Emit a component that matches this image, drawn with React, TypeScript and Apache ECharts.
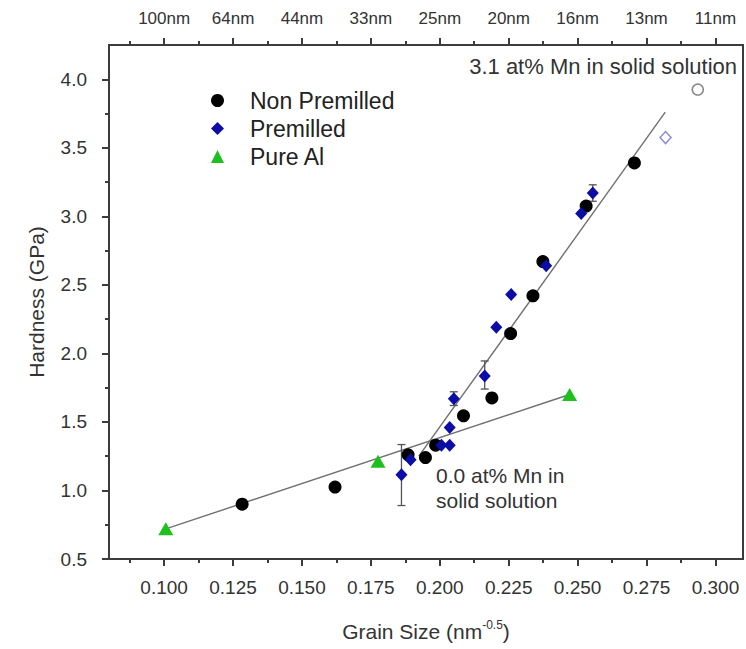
import React, { useEffect, useRef } from "react";
import * as echarts from "echarts";

const FONT = "'Liberation Sans', Arial, sans-serif";

// Axis ticks / labels
const xTicks = [0.1, 0.125, 0.15, 0.175, 0.2, 0.225, 0.25, 0.275, 0.3];
const xMinorTicks = [0.0875, 0.1125, 0.1375, 0.1625, 0.1875, 0.2125, 0.2375, 0.2625, 0.2875];
const topLabels = ["100nm", "64nm", "44nm", "33nm", "25nm", "20nm", "16nm", "13nm", "11nm"];
const yTicks = [0.5, 1.0, 1.5, 2.0, 2.5, 3.0, 3.5, 4.0];
const yMinorTicks = [0.75, 1.25, 1.75, 2.25, 2.75, 3.25, 3.75];

// Data [grain size nm^-0.5, hardness GPa]
const nonPremilled = [
  [0.1283, 0.9], [0.162, 1.025], [0.1885, 1.26], [0.1948, 1.24], [0.1985, 1.33],
  [0.2086, 1.545], [0.2189, 1.675], [0.2257, 2.145], [0.2338, 2.42], [0.2374, 2.67],
  [0.2531, 3.075], [0.2706, 3.39],
];
const premilled = [
  [0.1861, 1.115], [0.1894, 1.225], [0.2006, 1.33], [0.2036, 1.33], [0.2036, 1.46],
  [0.2051, 1.67], [0.2163, 1.835], [0.2205, 2.19], [0.2259, 2.43], [0.2386, 2.64],
  [0.2513, 3.02], [0.2555, 3.17],
];
const pureAl = [[0.1006, 0.72], [0.1776, 1.213], [0.2471, 1.7]];
const nonPremilledOpen = [[0.2936, 3.925]];
const premilledOpen = [[0.2819, 3.575]];
const fitPureAl = [[0.1006, 0.72], [0.2471, 1.7]];
const fitMn = [[0.1924, 1.25], [0.2818, 3.76]];
// [x, low, high]
const errorBars = [
  [0.1861, 0.89, 1.335],
  [0.2051, 1.62, 1.72],
  [0.2163, 1.74, 1.945],
  [0.2555, 3.11, 3.23],
];

const AX = "#3c3c3c";

function majorX(position: "bottom" | "top", labels: boolean, extra: any = {}) {
  return {
    type: "value",
    position,
    min: 0.08,
    max: 0.31,
    axisLine: { show: true, onZero: false, lineStyle: { color: AX, width: 2 } },
    axisTick: { show: true, length: 7, customValues: xTicks, lineStyle: { color: AX, width: 2 } },
    axisLabel: {
      show: labels,
      customValues: xTicks,
      fontFamily: FONT,
      color: "#333",
      ...extra,
    },
    splitLine: { show: false },
  };
}

function minorX(position: "bottom" | "top") {
  return {
    type: "value",
    position,
    min: 0.08,
    max: 0.31,
    axisLine: { show: false, onZero: false },
    axisTick: { show: true, length: 4, customValues: xMinorTicks, lineStyle: { color: AX, width: 2 } },
    axisLabel: { show: false },
    splitLine: { show: false },
  };
}

export default function App() {
  const ref = useRef<HTMLDivElement>(null);
  useEffect(() => {
    if (!ref.current) return;
    const chart = echarts.init(ref.current, null, { renderer: "svg" });
    const barStyle = { stroke: "#555", lineWidth: 1.3 };
    chart.setOption({
      animation: false,
      backgroundColor: "#fff",
      grid: { left: 109, right: 3, top: 45, bottom: 90, show: true, borderColor: AX, borderWidth: 2, backgroundColor: "transparent" },
      legend: {
        data: ["Non Premilled", "Premilled", "Pure Al"],
        orient: "vertical",
        left: 206,
        top: 84,
        itemWidth: 13,
        itemHeight: 13,
        itemGap: 5,
        textStyle: { fontFamily: FONT, fontSize: 23, color: "#222", padding: [0, 0, 0, 21] },
      },
      xAxis: [
        {
          ...majorX("bottom", true, {
            fontSize: 19,
            margin: 19,
            formatter: (v: number) => v.toFixed(3),
          }),
          name: "Grain Size (nm{sup|-0.5})",
          nameLocation: "middle",
          nameGap: 60,
          nameTextStyle: {
            fontFamily: FONT,
            fontSize: 21,
            color: "#333",
            lineHeight: 24,
            rich: { sup: { fontFamily: FONT, fontSize: 12, color: "#333", verticalAlign: "top", lineHeight: 12 } },
          },
        },
        majorX("top", true, {
          fontSize: 17,
          margin: 18,
          formatter: (v: number) => {
            const i = xTicks.findIndex((t) => Math.abs(t - v) < 1e-6);
            return i >= 0 ? topLabels[i] : "";
          },
        }),
        minorX("bottom"),
        minorX("top"),
      ],
      yAxis: [
        {
          type: "value",
          position: "left",
          min: 0.5,
          max: 4.25,
          axisLine: { show: true, onZero: false, lineStyle: { color: AX, width: 2 } },
          axisTick: { show: true, length: 7, customValues: yTicks, lineStyle: { color: AX, width: 2 } },
          axisLabel: {
            customValues: yTicks,
            fontFamily: FONT,
            fontSize: 19,
            color: "#333",
            margin: 22,
            formatter: (v: number) => v.toFixed(1),
          },
          splitLine: { show: false },
          name: "Hardness (GPa)",
          nameLocation: "middle",
          nameGap: 62,
          nameTextStyle: { fontFamily: FONT, fontSize: 21, color: "#333" },
        },
        {
          type: "value",
          position: "left",
          min: 0.5,
          max: 4.25,
          axisLine: { show: false, onZero: false },
          axisTick: { show: true, length: 4, customValues: yMinorTicks, lineStyle: { color: AX, width: 2 } },
          axisLabel: { show: false },
          splitLine: { show: false },
        },
      ],
      series: [
        {
          type: "line",
          data: fitPureAl,
          showSymbol: false,
          symbol: "none",
          lineStyle: { color: "#707070", width: 1.4 },
          z: 1,
          silent: true,
        },
        {
          type: "line",
          data: fitMn,
          showSymbol: false,
          symbol: "none",
          lineStyle: { color: "#707070", width: 1.4 },
          z: 1,
          silent: true,
        },
        {
          type: "custom",
          data: errorBars,
          encode: { x: 0, y: [1, 2] },
          z: 2,
          renderItem: (params: any, api: any) => {
            const x = api.value(0);
            const lo = api.coord([x, api.value(1)]);
            const hi = api.coord([x, api.value(2)]);
            const w = 4;
            return {
              type: "group",
              children: [
                { type: "line", shape: { x1: lo[0], y1: lo[1], x2: hi[0], y2: hi[1] }, style: barStyle },
                { type: "line", shape: { x1: lo[0] - w, y1: lo[1], x2: lo[0] + w, y2: lo[1] }, style: barStyle },
                { type: "line", shape: { x1: hi[0] - w, y1: hi[1], x2: hi[0] + w, y2: hi[1] }, style: barStyle },
              ],
            };
          },
        },
        {
          name: "Non Premilled",
          type: "scatter",
          data: nonPremilled,
          symbol: "circle",
          symbolSize: 13,
          itemStyle: { color: "#000", opacity: 1 },
          z: 4,
        },
        {
          name: "Premilled",
          type: "scatter",
          data: premilled,
          symbol: "diamond",
          symbolSize: [12, 13],
          itemStyle: { color: "#0c0ca6", opacity: 1 },
          z: 5,
        },
        {
          name: "Pure Al",
          type: "scatter",
          data: pureAl,
          symbol: "triangle",
          symbolSize: [15, 13],
          itemStyle: { color: "#1ec01e", opacity: 1 },
          z: 5,
        },
        {
          name: "Non Premilled (3.1 at% Mn)",
          type: "scatter",
          data: nonPremilledOpen,
          symbol: "circle",
          symbolSize: 11,
          itemStyle: { color: "#fff", borderColor: "#888", borderWidth: 1.5, opacity: 1 },
          z: 4,
        },
        {
          name: "Premilled (3.1 at% Mn)",
          type: "scatter",
          data: premilledOpen,
          symbol: "diamond",
          symbolSize: [11, 12],
          itemStyle: { color: "#fff", borderColor: "#8a8ad8", borderWidth: 1.5, opacity: 1 },
          z: 4,
        },
      ],
      graphic: [
        {
          type: "text",
          right: 9,
          top: 55,
          style: { text: "3.1 at% Mn in solid solution", font: `22px ${FONT}`, fill: "#333" },
        },
        {
          type: "text",
          left: 436,
          top: 463,
          style: { text: "0.0 at% Mn in\nsolid solution", font: `21px ${FONT}`, lineHeight: 25, fill: "#333" },
        },
      ],
    });
    return () => chart.dispose();
  }, []);
  return <div ref={ref} style={{ position: "fixed", left: 0, top: 0, width: 746, height: 649 }} />;
}
